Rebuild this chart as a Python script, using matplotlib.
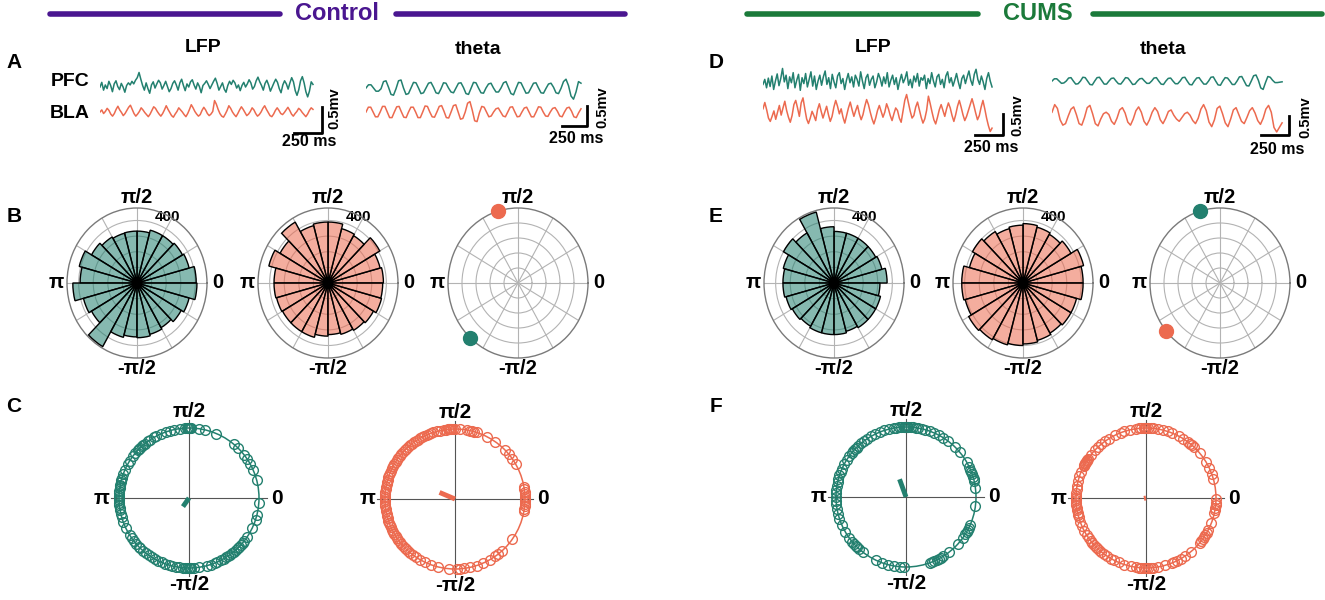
import numpy as np
import matplotlib
matplotlib.use('Agg')
import matplotlib.pyplot as plt
from matplotlib import font_manager
from matplotlib.colors import to_rgba
from matplotlib.lines import Line2D
from matplotlib.patches import Circle

names = {f.name for f in font_manager.fontManager.ttflist}
fam = ['Liberation Sans Narrow', 'Liberation Sans', 'DejaVu Sans']
fam = [f for f in fam if f in names] or ['DejaVu Sans']
plt.rcParams['font.family'] = fam
plt.rcParams['font.weight'] = 'bold'

TEAL = '#23806f'
RED = '#ec6a4f'
PURPLE = '#4a1690'
GREEN = '#1b7a3a'

# ---- traces (units of 10 uV) ----
ctrl_pfc_lfp = [0, 9, -6, 4, -3, 11, 3, -9, 6, 12, 1, -5, 7, 0, -10, 3, 8, 4, 11, 6, 13, 18, 28, 15, 3, -6, 8, -3, -12, 4,
                10, -2, 6, 13, 8, -4, 3, 11, 1, -9, -3, 7, 12, 4, -6, 8, 15, 3, -7, 6, 0, 10, 14, 4, -4, 8, 1, -11, 3, 7,
                12, 5, -3, 4, 11, 17, 7, -6, 1, 8, -4, -10, 3, 11, 5, 13, 8, -2, 4, -7, 3, 9, 0, 6, 14, 8, -4, 1, 12, 19,
                10, 3, -6, 7, 13, 4, -8, 0, 8, 15, 9, -3, -11, 4, 12, 6, -4, 8, 18, 10, -7, -16, -5, 12, 20, 8, -9, -19, -8, 10, 5]
ctrl_bla_lfp = [0, 4, -3, 1, 7, 3, -4, -8, -3, 5, 11, 4, -1, -7, -3, 3, 9, 13, 5, -3, -8, -4, 1, 8, 4, -1, -5, -9, -4, 3,
                10, 7, 1, -4, -8, -3, 4, 12, 5, -1, -7, -10, -4, 1, 8, 4, 0, -5, -9, -3, 5, 14, 8, 1, -4, -8, -5, 3, 9, 4,
                -3, -7, -4, 1, 22, 15, 5, -3, -8, -10, -4, 3, 12, 7, 0, -5, -9, -3, 4, 10, 5, -1, -7, -4, 1, 8, 4, -3, -8, -5,
                0, 7, 12, 5, -1, -7, -9, -4, 3, 8, 3, -3, -5, -1, 4, 9, 3, -4, -8, -3, 1, 7, 4, -1, -5, -9, -4, 3, 8, 5]
ctrl_pfc_theta = [0, 8, 8, 0, -8, -8, -2, 16, 18, 2, -16, -18, -2, 18, 20, 0, -16, -14, 0, 14, 13, 0, -14, -12,
                  0, 12, 14, 2, -12, -14, -2, 13, 12, 0, -10, -12, 0, 12, 13, 1, -14, -16, -1, 14, 13, 0, -12, -13,
                  0, 10, 12, 0, -10, -10, 0, 13, 16, 1, -14, -17, -1, 14, 13, 0, -13, -12, 0, 12, 13, 0, -12, -13,
                  -1, 10, 12, 2, -12, -14, -1, 16, 22, 6, -20, -28, -10, 16, 12]
ctrl_bla_theta = [0, 12, 12, 0, -12, -12, 0, 14, 14, 0, -14, -14, 0, 13, 14, 0, -13, -14, 0, 12, 12, 0, -14, -14,
                  0, 15, 14, 0, -12, -13, 0, 14, 16, 2, -14, -15, 0, 16, 18, 0, -18, -16, 0, 22, 26, 4, -22, -24,
                  -2, 14, 12, 0, -12, -10, 0, 8, 10, 0, -10, -12, 0, 12, 13, 0, -12, -11, 0, 10, 12, 0, -12, -12,
                  0, 13, 12, 0, -10, -11, 0, 9, 11, 2, -10, -12, 0, 10, 12, 2, -12, -14, -2, 8]
cums_pfc_lfp = [0, 12, -8, 15, -5, 20, -12, 8, 25, -3, 14, 38, 6, 22, -10, 18, 4, 28, -8, 10, 24, -14, 16, 2, 26, -6,
                12, 30, -4, 20, -12, 8, 22, -2, 18, 32, 0, 16, -10, 24, 6, -8, 20, 28, 2, 14, -12, 10, 26, 4, 18, -6,
                22, 12, -4, 30, 8, -10, 16, 24, -2, 12, 20, -8, 6, 26, 14, -4, 18, 2, 28, -6, 10, 22, 0, 16, -12, 8,
                24, 4, 14, 30, -2, 12, -8, 20, 6, 26, -4, 16, 10, 22, -10, 14, 2, 28, 8, -6, 18, 24, 0, 12, -8, 20,
                30, 4, 16, -4, 10, 26, 6, -10, 14, 22, 2, 18, 32, 10, -2, 24, 36, 12, 0, 20, 6, -12, 14, 28, 8, -6]
cums_bla_lfp = [10, 25, 8, -12, -20, -8, 5, -15, 2, 18, -5, 12, 28, 6, -10, -22, -6, 20, 30, 12, -8, 24, 36, 10, -14,
                -25, -12, 4, -6, -18, 8, 22, 4, -12, 2, 16, -4, -20, -8, 14, 30, 16, -2, 10, -10, -24, -6, 12, 26, 8,
                -8, 6, 18, -2, -16, -4, 16, 32, 20, 2, -14, -26, -12, 6, 18, 4, -10, 2, 22, 10, -6, -18, -2, 12, 6,
                -12, -22, 4, 30, 44, 24, 4, -12, -6, 14, 26, 8, -10, -24, -14, 6, 40, 22, 2, -16, -26, -10, 8, 20, 6,
                -8, 10, 24, 12, -6, -20, -4, 16, 30, 14, -4, -18, -8, 6, 20, 34, 18, 0, -16, -6, 14, 30, 10, -12, -30, -44, -36]
cums_pfc_theta = [0, 6, 6, 0, -6, -5, 0, 8, 9, 0, -8, -7, 0, 10, 9, 0, -9, -10, 0, 9, 10, 1, -8, -8,
                  0, 7, 8, 0, -7, -8, 0, 9, 8, 0, -9, -8, 0, 6, 7, 0, -6, -6, 0, 8, 9, 0, -8, -9,
                  0, 7, 8, 0, -7, -7, 0, 9, 10, 0, -9, -10, 0, 8, 9, 0, -8, -8, 0, 10, 11, 0, -10, -11,
                  0, 9, 8, 0, -9, -9, 0, 11, 12, 0, -12, -13, 0, 14, 16, 2, -18, -22, -4, 12, 10, 2, -4, -4, -3, -2]
cums_bla_theta = [10, 30, 20, -10, -24, -20, 0, 18, 24, 4, -20, -24, -4, 22, 28, 6, -20, -26, -8, 6, 10, 4, -14, -22,
                  -6, 16, 22, 8, -16, -24, -8, 14, 24, 10, -14, -24, -10, 10, 22, 12, -10, -20, -6, 12, 16, 2, -8, -14,
                  -4, 6, 10, 2, -12, -20, -6, 18, 30, 14, -16, -28, -10, 20, 26, 6, -18, -28, -8, 16, 22, 4, -14, -20,
                  -4, 14, 22, 8, -12, -22, -6, 18, 28, 10, -30, -42, -30, -18]

# ---- phase histograms (24 bins of 15 deg, counts) ----
bin_deg = np.arange(7.5, 360, 15)
ctrl_pfc_hist = [406, 370, 360, 350, 350, 332, 332, 330, 340, 360, 410, 390,
                 440, 380, 360, 470, 360, 345, 350, 340, 330, 350, 370, 411]
ctrl_bla_hist = [380, 370, 410, 350, 360, 390, 390, 380, 450, 380, 420, 370,
                 370, 365, 360, 360, 360, 340, 330, 340, 350, 360, 380, 375]
cums_pfc_hist = [364, 340, 330, 330, 330, 330, 360, 470, 370, 400, 360, 350,
                 350, 340, 330, 320, 330, 330, 330, 320, 330, 330, 330, 315]
cums_bla_hist = [412, 430, 380, 360, 370, 380, 370, 360, 380, 400, 380, 420,
                 420, 410, 430, 420, 410, 400, 390, 380, 370, 380, 380, 412]

# preferred phase (deg): [PFC, BLA]
ctrl_pref = [227, 107]
cums_pref = [107, 220]

# ---- spike/trial phases (deg) ----
ctrl_pfc_phase = [88, 89, 90, 91, 92, 93, 97, 102, 106, 109, 114, 118, 120, 124, 126, 129, 131, 132, 134, 136, 137, 140,
                  143, 148, 151, 156, 160, 163, 165, 167, 169, 170, 172, 174, 176, 178, 180, 182, 184, 186, 188, 190,
                  193, 196, 200, 205, 212, 215, 218, 221, 224, 226, 229, 232, 235, 238, 241, 244, 247, 250, 253, 256,
                  259, 262, 265, 267, 268, 270, 271, 272, 274, 278, 285, 288, 292, 294, 297, 300, 302, 304, 306, 308,
                  310, 312, 314, 316, 318, 320, 322, 326, 335, 342, 346, 356, 15, 24, 29, 34, 38, 46, 50, 67, 77, 82]
ctrl_bla_phase = [86, 90, 92, 93, 94, 95, 96, 97, 99, 102, 105, 108, 110, 112, 114, 116, 118, 120, 122, 124, 126, 128,
                  130, 132, 134, 136, 138, 140, 142, 144, 146, 148, 150, 152, 154, 156, 158, 160, 162, 164, 166, 168,
                  170, 172, 174, 176, 178, 180, 182, 184, 186, 188, 190, 192, 194, 196, 198, 200, 202, 204, 206, 208,
                  210, 212, 214, 216, 218, 220, 222, 224, 226, 228, 230, 233, 236, 240, 245, 250, 256, 265, 272, 274,
                  277, 282, 288, 294, 300, 305, 308, 312, 325, 350, 352, 354, 356, 358, 0, 2, 4, 6, 8, 10, 30, 35,
                  40, 44, 55, 63, 72, 74, 76, 78, 80]
cums_pfc_phase = [80, 82, 84, 86, 88, 89, 90, 91, 92, 94, 96, 98, 100, 104, 108, 112, 116, 120, 124, 127, 130, 133,
                  135, 137, 139, 141, 144, 148, 152, 156, 159, 162, 165, 168, 171, 174, 177, 180, 183, 186, 190, 194,
                  198, 204, 210, 216, 220, 222, 224, 226, 228, 232, 245, 250, 255, 260, 265, 268, 290, 292, 294, 296,
                  298, 300, 302, 308, 318, 324, 328, 330, 332, 334, 336, 353, 7, 13, 15, 17, 19, 21, 23, 25, 30, 40,
                  46, 53, 58, 62, 66, 70, 74, 77]
cums_bla_phase = [84, 86, 88, 90, 91, 92, 94, 96, 98, 103, 108, 111, 116, 122, 126, 130, 133, 137, 142, 146, 147, 148,
                  149, 150, 151, 152, 153, 158, 162, 166, 170, 173, 176, 178, 180, 182, 184, 186, 188, 190, 192, 194,
                  196, 200, 204, 208, 212, 215, 218, 220, 222, 224, 226, 228, 230, 233, 236, 240, 243, 247, 252, 258,
                  262, 264, 266, 268, 270, 272, 274, 276, 280, 286, 292, 294, 296, 300, 304, 310, 320, 322, 324, 326,
                  328, 330, 333, 339, 348, 350, 352, 354, 356, 359, 16, 20, 25, 31, 40, 47, 49, 51, 53, 58, 62, 68,
                  72, 76, 80]
# mean resultant vectors: angle (deg), length
mean_angle = [235, 157, 110, 190]
mean_len = [0.15, 0.24, 0.27, 0.03]

W, H = 1325, 600
fig = plt.figure(figsize=(W / 100, H / 100), dpi=100)


def px_axes(x0, y0, x1, y1, **kw):
    return fig.add_axes([x0 / W, 1 - y1 / H, (x1 - x0) / W, (y1 - y0) / H], **kw)


def ftext(x, y, s, **kw):
    kw.setdefault('ha', 'center')
    kw.setdefault('va', 'center')
    kw.setdefault('fontweight', 'bold')
    fig.text(x / W, 1 - y / H, s, **kw)


def fline(x0, x1, y, color):
    fig.add_artist(Line2D([x0 / W, x1 / W], [1 - y / H, 1 - y / H], color=color, lw=4,
                          solid_capstyle='round', transform=fig.transFigure))


# headers
fline(50, 280, 14, PURPLE)
fline(396, 625, 14, PURPLE)
ftext(337, 14, 'Control', color=PURPLE, fontsize=17)
fline(747, 978, 14, GREEN)
fline(1093, 1322, 14, GREEN)
ftext(1038, 14, 'CUMS', color=GREEN, fontsize=17)

for lab, x, y in [('A', 14, 62), ('B', 14, 216), ('C', 14, 406), ('D', 716, 62), ('E', 716, 216), ('F', 716, 406)]:
    ftext(x, y, lab, fontsize=15)

ftext(203, 48, 'LFP', fontsize=14)
ftext(478, 50, 'theta', fontsize=14)
ftext(873, 48, 'LFP', fontsize=14)
ftext(1163, 50, 'theta', fontsize=14)
ftext(70, 82, 'PFC', fontsize=14)
ftext(70, 113, 'BLA', fontsize=14)


def trace_block(box, xlim, ylim, dur, pfc, bla, offset, bar_t, bar_y, bar_mv, txt_x, txt_y):
    ax = px_axes(*box)
    ax.set_xlim(xlim)
    ax.set_ylim(ylim)
    ax.axis('off')
    t1 = np.linspace(0, dur, len(pfc))
    t2 = np.linspace(0, dur, len(bla))
    ax.plot(t1, np.array(pfc) + offset, color=TEAL, lw=1.1)
    ax.plot(t2, bla, color=RED, lw=1.1)
    ax.plot([bar_t - 250, bar_t, bar_t], [bar_y, bar_y, bar_y + bar_mv], color='black', lw=2)
    ax.text(bar_t - 110, txt_y, '250 ms', ha='center', va='center', fontsize=11.5, fontweight='bold', clip_on=False)
    ax.text(txt_x, bar_y + bar_mv * 0.95, '0.5mv', ha='center', va='center', rotation=90,
            fontsize=10.5, fontweight='bold', clip_on=False)


trace_block((100, 55, 340, 145), (0, 2141), (-63.5, 109.6), 1900, ctrl_pfc_lfp, ctrl_bla_lfp, 48,
            1980, -40, 50, 2090, -56)
trace_block((366, 55, 620, 145), (0, 2540), (-82.5, 142.5), 2150, ctrl_pfc_theta, ctrl_bla_theta, 60,
            2210, -35, 50, 2360, -67)
trace_block((763, 55, 1030, 150), (0, 2384), (-88, 138), 2045, cums_pfc_lfp, cums_bla_lfp, 68,
            2143, -52, 50, 2270, -83)
trace_block((1052, 55, 1325, 155), (0, 2437), (-102.6, 160.6), 2054, cums_pfc_theta, cums_bla_theta, 92,
            2116, -50, 50, 2260, -89)

RX, RY = 70, 75
tick_labels = ['0', '', '', 'π/2', '', '', 'π', '', '', '-π/2', '', '']


def polar_base(cx, cy, rmax, rticks):
    ax = px_axes(cx - RX, cy - RY, cx + RX, cy + RY, projection='polar')
    ax.set_aspect('auto')
    ax.set_ylim(0, rmax)
    ax.set_xticks(np.deg2rad(np.arange(0, 360, 30)))
    ax.set_xticklabels(tick_labels, fontsize=14.5, fontweight='bold')
    ax.tick_params(axis='x', pad=-3)
    ax.set_yticks(rticks)
    ax.grid(True, color='#b3b3b3', lw=0.8)
    ax.spines['polar'].set_color('#7a7a7a')
    ax.spines['polar'].set_linewidth(1.0)
    ax.set_axisbelow(True)
    return ax


def rose(cx, cy, counts, color):
    ax = polar_base(cx, cy, 480, [100, 200, 300, 400])
    ax.set_yticklabels(['', '', '', '400'], fontsize=11, fontweight='bold')
    ax.set_rlabel_position(72)
    ax.bar(np.deg2rad(bin_deg), counts, width=np.deg2rad(15), facecolor=to_rgba(color, 0.55),
           edgecolor='black', linewidth=1.0, zorder=3)


def pref_plot(cx, cy, pref):
    ax = polar_base(cx, cy, 1.0, [0.2, 0.4, 0.6, 0.8])
    ax.set_yticklabels([])
    for ang, col in zip(pref, [TEAL, RED]):
        ax.plot(np.deg2rad(ang), 1.0, 'o', ms=10, color=col, clip_on=False, zorder=5)


rose(137, 283, ctrl_pfc_hist, TEAL)
rose(328, 283, ctrl_bla_hist, RED)
pref_plot(518, 283, ctrl_pref)
rose(834, 283, cums_pfc_hist, TEAL)
rose(1023, 283, cums_bla_hist, RED)
pref_plot(1220, 283, cums_pref)


def phase_circle(cx, cy, phases, color, m_ang, m_len):
    R = 70
    half = 100
    ax = px_axes(cx - half, cy - half, cx + half, cy + half)
    lim = half / R
    ax.set_xlim(-lim, lim)
    ax.set_ylim(-lim, lim)
    ax.axis('off')
    ext = 1.12 / lim
    ax.axhline(0, xmin=0.5 - ext / 2, xmax=0.5 + ext / 2, color='#555555', lw=0.8)
    ax.axvline(0, ymin=0.5 - ext / 2, ymax=0.5 + ext / 2, color='#555555', lw=0.8)
    ax.add_patch(Circle((0, 0), 1, fill=False, edgecolor=color, lw=1.1))
    rad = np.deg2rad(phases)
    ax.plot(np.cos(rad), np.sin(rad), 'o', mfc='none', mec=color, ms=7, mew=1.0)
    a = np.deg2rad(m_ang)
    ax.plot([0, m_len * np.cos(a)], [0, m_len * np.sin(a)], color=color, lw=3.5, solid_capstyle='butt')
    kw = dict(ha='center', va='center', fontsize=15, fontweight='bold')
    ax.text(1.25, 0, '0', **kw)
    ax.text(-1.25, 0, 'π', **kw)
    ax.text(0, 1.24, 'π/2', **kw)
    ax.text(0, -1.24, '-π/2', **kw)


phase_circle(189, 498, ctrl_pfc_phase, TEAL, mean_angle[0], mean_len[0])
phase_circle(455, 499, ctrl_bla_phase, RED, mean_angle[1], mean_len[1])
phase_circle(906, 497, cums_pfc_phase, TEAL, mean_angle[2], mean_len[2])
phase_circle(1146, 498, cums_bla_phase, RED, mean_angle[3], mean_len[3])

fig.savefig('out.png', dpi=100)
